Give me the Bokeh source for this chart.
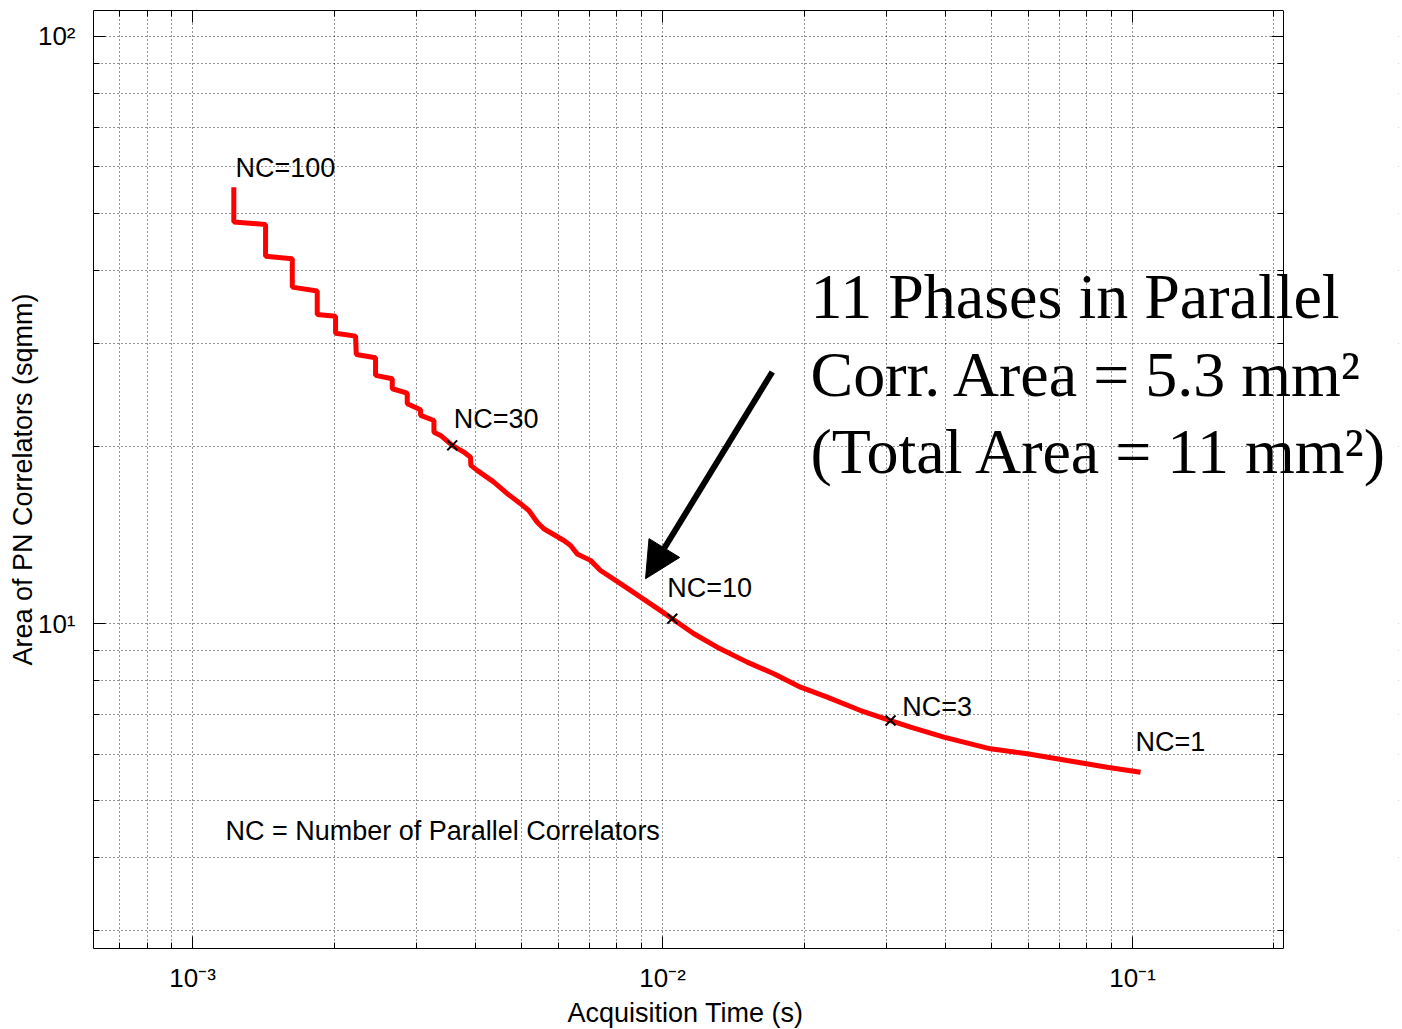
from bokeh.plotting import figure
from bokeh.models import (Range1d, FixedTicker, LogAxis, Label, Arrow, NormalHead,
                          ColumnDataSource, BoxAnnotation, Title)
from bokeh.embed import file_html
from bokeh.resources import INLINE

# ---------------- data ----------------
time_s = [1.224e-3, 1.224e-3, 1.430e-3, 1.430e-3, 1.630e-3, 1.630e-3, 1.842e-3, 1.842e-3,
          2.015e-3, 2.015e-3, 2.223e-3, 2.230e-3, 2.451e-3, 2.451e-3, 2.660e-3, 2.660e-3,
          2.863e-3, 2.863e-3, 3.056e-3, 3.056e-3, 3.263e-3, 3.263e-3, 3.371e-3, 3.569e-3,
          3.777e-3, 3.903e-3, 3.910e-3, 4.033e-3, 4.377e-3, 4.673e-3, 4.987e-3, 5.194e-3,
          5.413e-3, 5.590e-3, 6.166e-3, 6.372e-3, 6.584e-3, 7.026e-3, 7.379e-3, 8.138e-3,
          8.979e-3, 9.902e-3, 1.049e-2, 1.166e-2, 1.307e-2, 1.514e-2, 1.725e-2, 1.966e-2,
          2.241e-2, 2.638e-2, 3.056e-2, 3.371e-2, 3.968e-2, 4.987e-2, 5.970e-2, 7.262e-2,
          8.834e-2, 0.1040]
area_sqmm = [55.35, 48.27, 47.83, 42.2, 41.82, 37.41, 36.83, 33.61,
             33.38, 31.23, 30.87, 28.73, 28.36, 26.47, 26.12, 25.12,
             24.69, 23.69, 23.14, 22.63, 22.18, 21.19, 20.92, 20.12,
             19.60, 19.21, 18.60, 18.24, 17.42, 16.65, 16.01, 15.59,
             14.89, 14.51, 13.86, 13.59, 13.15, 12.82, 12.32, 11.70,
             11.10, 10.53, 10.20, 9.616, 9.124, 8.604, 8.221, 7.800,
             7.500, 7.118, 6.844, 6.668, 6.412, 6.126, 6.007, 5.851,
             5.700, 5.589]

marker_time = [3.569e-3, 1.049e-2, 3.056e-2]
marker_area = [20.12, 10.20, 6.844]

nc_labels = ["NC=100", "NC=30", "NC=10", "NC=3", "NC=1"]
nc_label_x = [1.234e-3, 3.597e-3, 1.0232e-2, 3.236e-2, 0.1015]
nc_label_y = [57.5, 21.5, 11.10, 6.98, 6.085]

x_ticks = [1e-3, 1e-2, 1e-1]
x_tick_labels = ["10\u207b\u00b3", "10\u207b\u00b2", "10\u207b\u00b9"]
x_minor = [7e-4, 8e-4, 9e-4,
           2e-3, 3e-3, 4e-3, 5e-3, 6e-3, 7e-3, 8e-3, 9e-3,
           2e-2, 3e-2, 4e-2, 5e-2, 6e-2, 7e-2, 8e-2, 9e-2, 2e-1]
y_ticks = [10, 100]
y_tick_labels = ["10\u00b9", "10\u00b2"]
y_minor = [3, 4, 5, 6, 7, 8, 9, 20, 30, 40, 50, 60, 70, 80, 90]

X_MIN, X_AXIS_END, X_VIEW_END = 6.155e-4, 0.2096, 0.3681
Y_MIN, Y_MAX = 2.801, 110.6

SANS = "Liberation Sans"
SERIF = "Liberation Serif"
FS_TICK = "26px"
FS_TXT = "27px"

p = figure(width=1402, height=1029, x_axis_type="log", y_axis_type="log",
           x_range=Range1d(X_MIN, X_VIEW_END), y_range=Range1d(Y_MIN, Y_MAX),
           output_backend="svg", toolbar_location=None,
           min_border_left=93, min_border_right=4, min_border_top=10, min_border_bottom=81)
p.background_fill_color = "white"
p.border_fill_color = "white"
p.outline_line_color = None

xt = FixedTicker(ticks=x_ticks, minor_ticks=x_minor)
yt = FixedTicker(ticks=y_ticks, minor_ticks=y_minor)


def style_axis(ax):
    ax.axis_line_color = "black"
    ax.axis_line_width = 1
    ax.major_tick_in = 12
    ax.major_tick_out = 0
    ax.minor_tick_in = 6
    ax.minor_tick_out = 0
    ax.major_tick_line_color = "black"
    ax.minor_tick_line_color = "black"
    ax.major_label_text_font = SANS
    ax.major_label_text_font_size = FS_TICK
    ax.major_label_text_color = "black"
    ax.axis_label_text_font = SANS
    ax.axis_label_text_font_size = FS_TXT
    ax.axis_label_text_font_style = "normal"
    ax.axis_label_text_color = "black"


xa = p.xaxis[0]
ya = p.yaxis[0]
xa.ticker = xt
ya.ticker = yt
style_axis(xa)
style_axis(ya)
xa.bounds = (X_MIN, X_AXIS_END)
xa.major_label_overrides = {t: l for t, l in zip(x_ticks, x_tick_labels)}
ya.major_label_overrides = {t: l for t, l in zip(y_ticks, y_tick_labels)}
ya.axis_label = "Area of PN Correlators (sqmm)"
xa.major_label_standoff = 14
ya.major_label_standoff = 18
ya.axis_label_standoff = -3

# x axis title, centred under the axes box (not under the wider frame)
p.add_layout(Title(text="Acquisition Time (s)", align="left", offset=474,
                   text_font=SANS, text_font_size=FS_TXT, text_font_style="normal",
                   text_color="black", standoff=0), "below")

top_ax = LogAxis(ticker=xt, bounds=(X_MIN, X_AXIS_END))
right_ax = LogAxis(ticker=yt, fixed_location=X_AXIS_END)
for loc, ax in (("above", top_ax), ("right", right_ax)):
    style_axis(ax)
    ax.major_label_text_font_size = "1px"
    ax.major_label_text_color = None
    ax.major_label_standoff = 0
    p.add_layout(ax, loc)

for g, tk in ((p.xgrid[0], xt), (p.ygrid[0], yt)):
    g.ticker = tk
    g.grid_line_color = "black"
    g.grid_line_alpha = 0.85
    g.grid_line_dash = "1 3"
    g.grid_line_width = 1
    g.minor_grid_line_color = "black"
    g.minor_grid_line_alpha = 0.85
    g.minor_grid_line_dash = "1 3"
    g.minor_grid_line_width = 1

# blank out the grid beyond the right edge of the axes box
p.add_layout(BoxAnnotation(left=X_AXIS_END * 1.004, fill_color="white", fill_alpha=1.0,
                           line_color=None, level="underlay"))

src = ColumnDataSource(dict(t=time_s, a=area_sqmm))
p.line("t", "a", source=src, line_color="#ff0000", line_width=5)
p.scatter(marker_time, marker_area, marker="x", size=14, line_color="black", line_width=2)

for txt, lx, ly in zip(nc_labels, nc_label_x, nc_label_y):
    p.add_layout(Label(x=lx, y=ly, y_offset=9, text=txt, text_font=SANS, text_font_size=FS_TXT,
                       text_color="black", text_baseline="alphabetic", text_align="left"))

p.add_layout(Label(x=1.175e-3, y=4.279, y_offset=9, text="NC = Number of Parallel Correlators",
                   text_font=SANS, text_font_size=FS_TXT, text_color="black",
                   text_baseline="alphabetic", text_align="left"))

big_lines = ["11 Phases in Parallel", "Corr. Area = 5.3 mm\u00b2", "(Total Area = 11 mm\u00b2)"]
big_y = [33.21, 24.47, 18.10]
for txt, ly in zip(big_lines, big_y):
    p.add_layout(Label(x=2.065e-2, y=ly, y_offset=21, text=txt, text_font=SERIF,
                       text_font_size="64px", text_color="black",
                       text_baseline="alphabetic", text_align="left"))

p.add_layout(Arrow(end=NormalHead(size=36, fill_color="black", line_color="black"),
                   x_start=1.712e-2, y_start=26.82, x_end=9.201e-3, y_end=11.93,
                   line_width=6, line_color="black"))

open("out.html", "w").write(file_html(p, INLINE))
